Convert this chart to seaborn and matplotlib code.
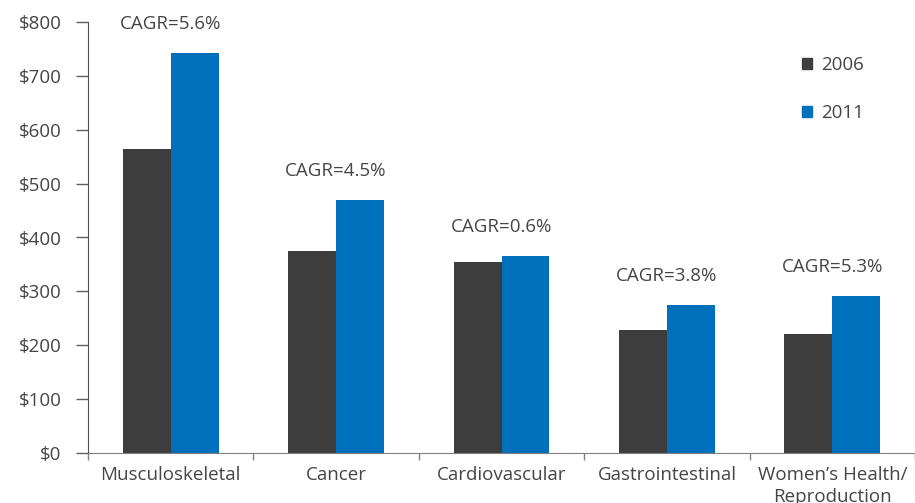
import matplotlib.pyplot as plt
import seaborn as sns
import pandas as pd

# Данные с картинки
categories = ["Musculoskeletal", "Cancer", "Cardiovascular", "Gastrointestinal",
              "Women\u2019s Health/\nReproduction"]
years = ["2006", "2011"]
values_2006 = [564, 375, 354, 228, 221]
values_2011 = [742, 469, 365, 275, 291]
cagr_labels = ["CAGR=5.6%", "CAGR=4.5%", "CAGR=0.6%", "CAGR=3.8%", "CAGR=5.3%"]
y_ticks = [0, 100, 200, 300, 400, 500, 600, 700, 800]

colors = {"2006": "#3d3d3d", "2011": "#0070bd"}
text_color = "#454545"

df = pd.DataFrame({
    "category": categories * 2,
    "year": [years[0]] * len(categories) + [years[1]] * len(categories),
    "value": values_2006 + values_2011,
})

sns.set_style("white")
plt.rcParams["font.family"] = ["Open Sans", "DejaVu Sans"]

fig = plt.figure(figsize=(9.15, 5.03), dpi=100)
ax = fig.add_axes([88 / 915, 50 / 503, 827 / 915, 431 / 503])

sns.barplot(data=df, x="category", y="value", hue="year", order=categories,
            hue_order=years, palette=colors, width=0.58, saturation=1,
            linewidth=0, ax=ax, legend=False)

ax.set_ylim(0, 800)
ax.set_xlim(-0.5, len(categories) - 0.5)
ax.set_yticks(y_ticks)
ax.set_yticklabels([f"${v}" for v in y_ticks])
ax.set_xlabel("")
ax.set_ylabel("")

# засечки оси X между категориями
ax.set_xticks([i + 0.5 for i in range(-1, len(categories))], minor=True)
ax.tick_params(axis="x", which="major", length=0, pad=9, labelsize=13.5, labelcolor=text_color)
ax.tick_params(axis="x", which="minor", length=5, width=1, color="#808080", bottom=True)
ax.tick_params(axis="y", length=9, width=1, color="#606060", pad=10, left=True,
               labelsize=13.5, labelcolor=text_color)
for lbl in ax.get_xticklabels():
    lbl.set_linespacing(1.3)

sns.despine(ax=ax, top=True, right=True)
ax.spines["left"].set_color("#505050")
ax.spines["bottom"].set_color("#808080")

# подписи CAGR над группами
for i, label in enumerate(cagr_labels):
    top = max(values_2006[i], values_2011[i])
    ax.annotate(label, xy=(i, top), xytext=(0, 21), textcoords="offset points",
                ha="center", va="center", fontsize=13.5, color=text_color)

handles = [plt.Rectangle((0, 0), 1, 1, color=colors[y]) for y in years]
fig.legend(handles, years, loc="upper left", bbox_to_anchor=(785 / 915, 1 - 39 / 503),
           frameon=False, handlelength=0.55, handleheight=0.55, handletextpad=0.5,
           labelspacing=1.6, fontsize=13.5, labelcolor=text_color)

fig.savefig("out.png", dpi=100)
